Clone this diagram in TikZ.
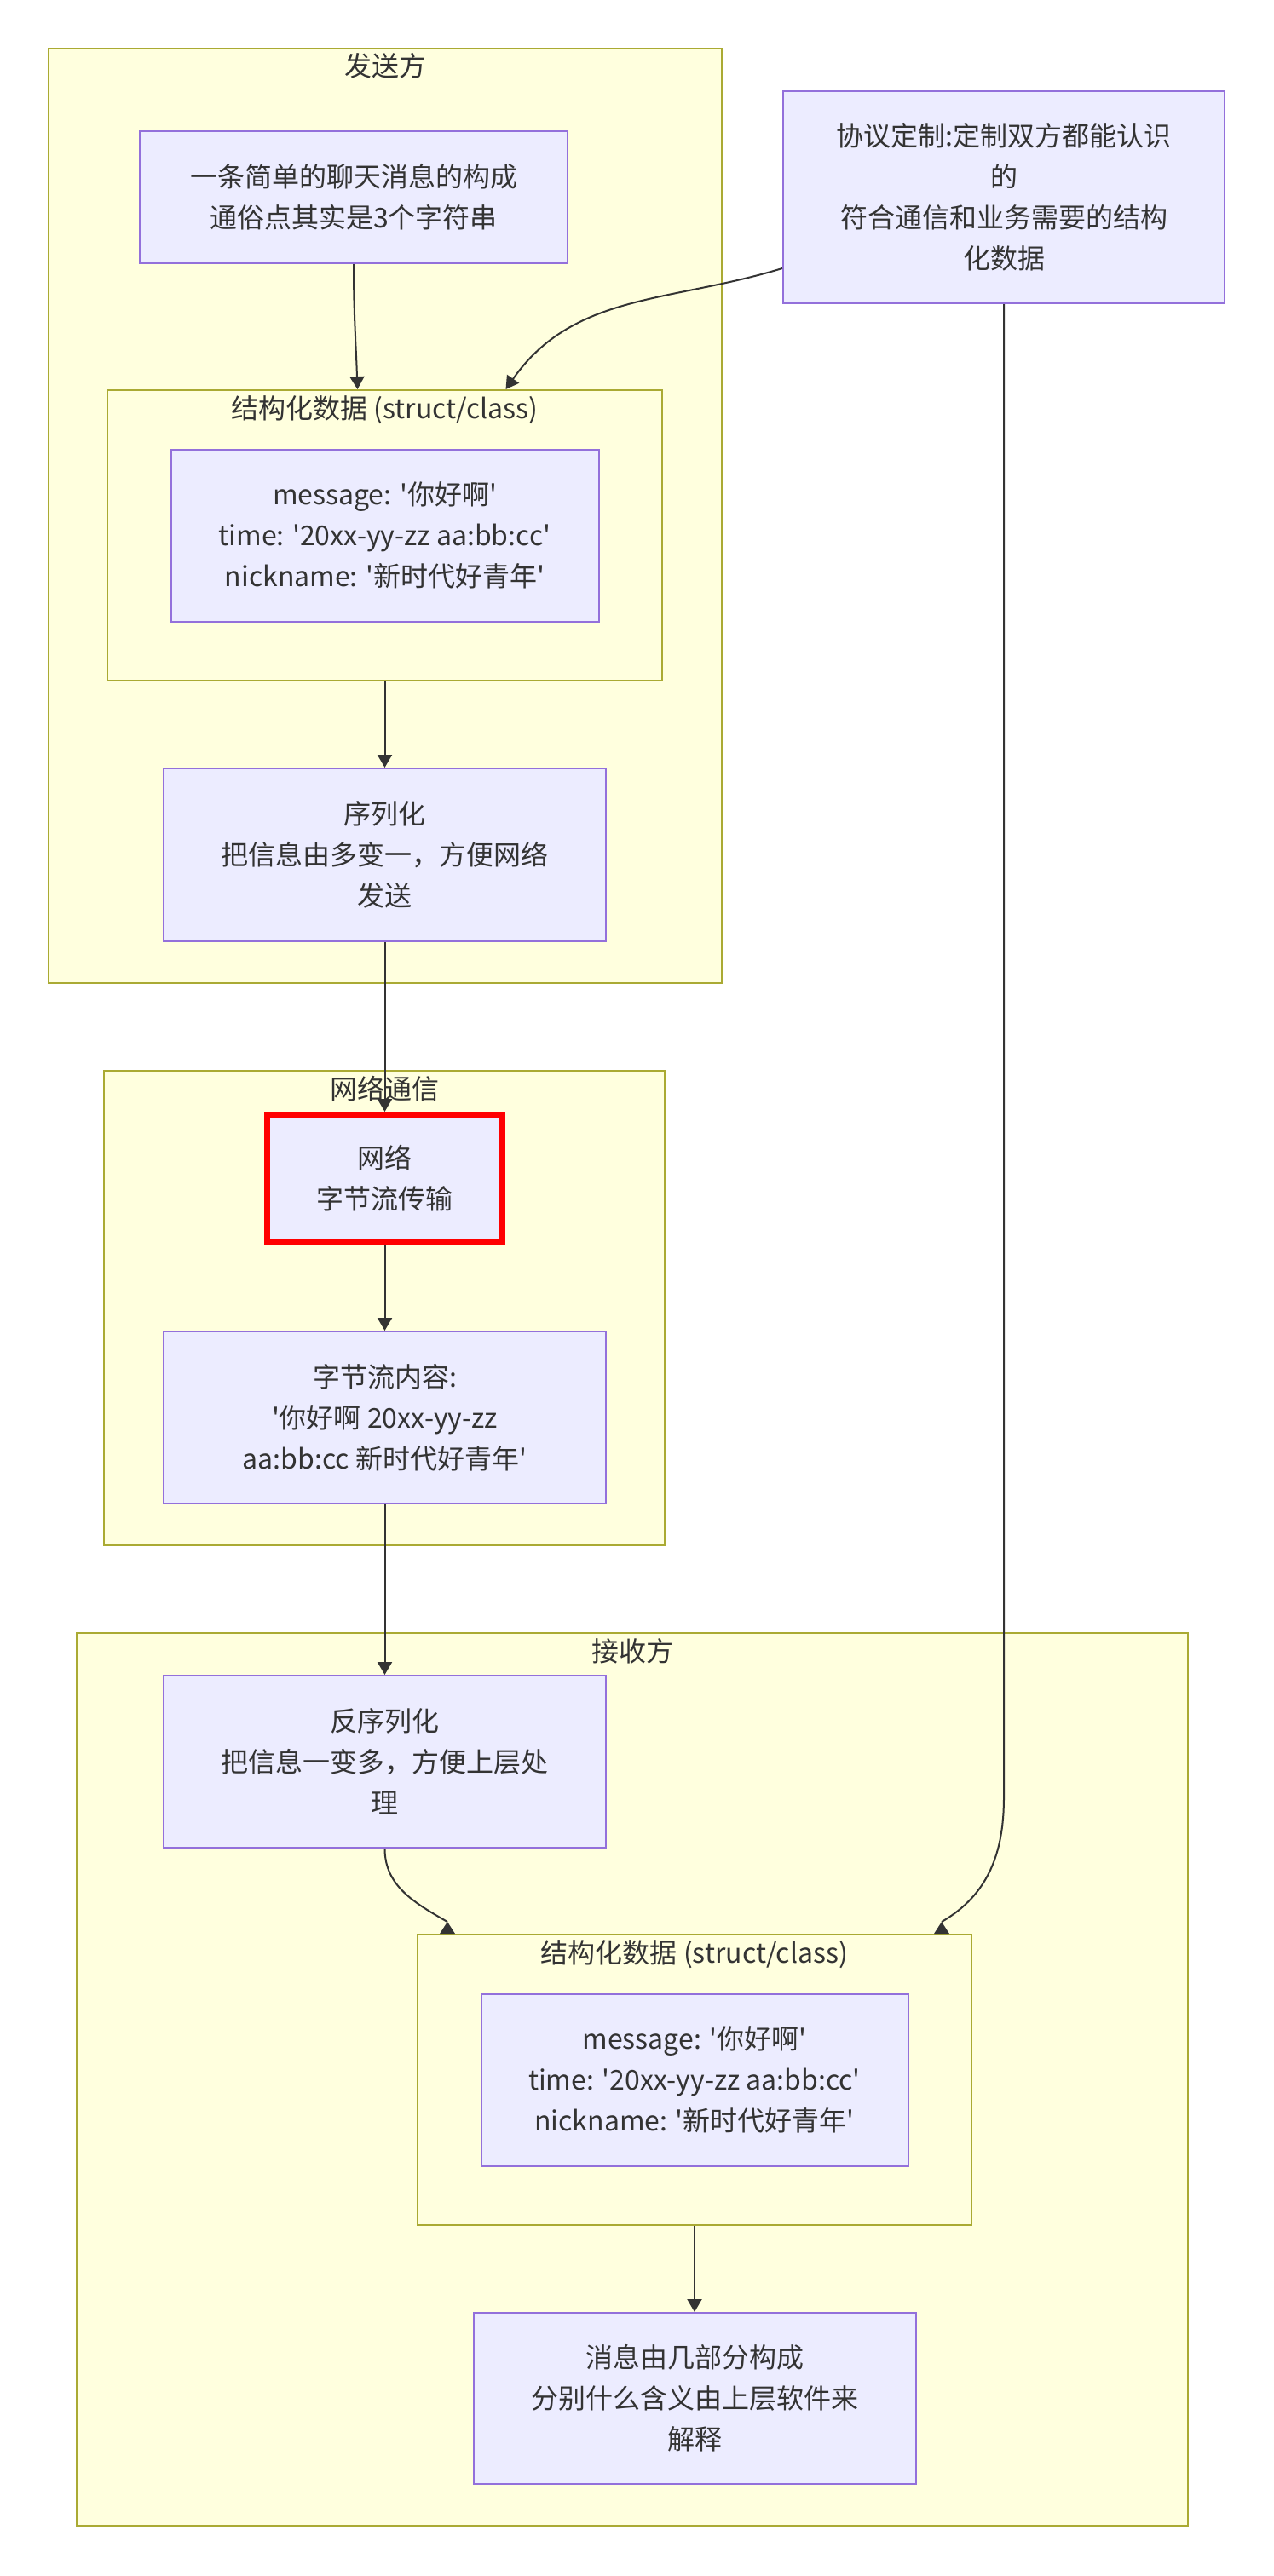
\documentclass[tikz,border=0pt]{standalone}
\usepackage{fontspec}
\usepackage{xcolor}
\usepackage{tikz}
\usetikzlibrary{arrows.meta,positioning}
\newfontfamily\cjk{Noto Sans CJK SC}
\definecolor{clfill}{HTML}{FFFFDE}
\definecolor{clline}{HTML}{AAAA33}
\definecolor{ndfill}{HTML}{ECECFF}
\definecolor{ndline}{HTML}{9370DB}
\definecolor{ink}{HTML}{333333}

\begin{document}
\begin{tikzpicture}[
  x=1pt, y=1pt,
  font=\cjk\fontsize{16}{24}\selectfont,
  cluster/.style={draw=clline, fill=clfill, line width=1pt, inner sep=0pt},
  ctitle/.style={anchor=base, inner sep=0pt, text=ink},
  box/.style={draw=ndline, fill=ndfill, line width=1pt, align=center,
              inner sep=0pt, text=ink},
  hot/.style={box, draw=red, line width=3.5pt},
  arr/.style={-{Triangle[length=7.5pt,width=8.5pt]}, line width=1pt, draw=ink},
  wire/.style={line width=1pt, draw=ink}
]
\path[use as bounding box, fill=white] (0,0) rectangle (747,-1512);
% clusters
\node[cluster, minimum width=395pt, minimum height=548.5pt] (send) at (226,-302.75) {};
\node[ctitle] (sendt) at ([yshift=-17pt]send.north) {发送方};
\node[cluster, minimum width=325.5pt, minimum height=170.5pt] (st1) at (225.75,-314.25) {};
\node[ctitle] (st1t) at ([yshift=-17pt]st1.north) {结构化数据 (struct/class)};
\node[cluster, minimum width=329pt, minimum height=278.5pt] (netc) at (225.5,-767.75) {};
\node[ctitle] (netct) at ([yshift=-17pt]netc.north) {网络通信};
\node[cluster, minimum width=652pt, minimum height=524pt] (recv) at (371,-1220.5) {};
\node[ctitle] (recvt) at ([yshift=-17pt]recv.north) {接收方};
\node[cluster, minimum width=325pt, minimum height=170.5pt] (st2) at (407.5,-1220.75) {};
\node[ctitle] (st2t) at ([yshift=-17pt]st2.north) {结构化数据 (struct/class)};
% nodes
\node[box, minimum width=251pt, minimum height=77.5pt] (msg) at (207.5,-115.75)
  {一条简单的聊天消息的构成\\通俗点其实是3个字符串};
\node[box, minimum width=259pt, minimum height=124.5pt] (proto) at (589,-115.75)
  {协议定制:定制双方都能认识\\的\\符合通信和业务需要的结构\\化数据};
\node[box, minimum width=251pt, minimum height=101pt] (data1) at (st1)
  {message: '你好啊'\\time: '20xx-yy-zz aa:bb:cc'\\nickname: '新时代好青年'};
\node[box, minimum width=259.5pt, minimum height=101.5pt, below=50.5pt of st1] (ser)
  {序列化\\把信息由多变一，方便网络\\发送};
\node[hot, minimum width=138pt, minimum height=75pt] (net) at (225.75,-691.75)
  {网络\\字节流传输};
\node[box, minimum width=259.5pt, minimum height=101pt, below=50pt of net] (bytes)
  {字节流内容:\\'你好啊 20xx-yy-zz\\aa:bb:cc 新时代好青年'};
\node[box, minimum width=259.5pt, minimum height=101pt] (deser) at (225.75,-1034)
  {反序列化\\把信息一变多，方便上层处\\理};
\node[box, minimum width=250.5pt, minimum height=101pt] (data2) at (st2)
  {message: '你好啊'\\time: '20xx-yy-zz aa:bb:cc'\\nickname: '新时代好青年'};
\node[box, minimum width=259.5pt, minimum height=100.5pt, below=50.5pt of st2] (parts)
  {消息由几部分构成\\分别什么含义由上层软件来\\解释};
% arrows
\draw[arr] (msg.south) to[out=-90, in=92] ([xshift=-16pt]st1.north);
\draw[arr] ([yshift=21pt]proto.south west) to[out=197, in=55] ([xshift=71pt]st1.north);
\draw[arr] (st1) -- (ser);
\draw[arr] (ser) -- (net);
\draw[arr] (net) -- (bytes);
\draw[arr] (bytes) -- (deser);
\draw[arr] (st2) -- (parts);
% edges that end on the receiver struct box
\coordinate (tipl) at ([xshift=-145pt]st2.north);
\coordinate (tipr) at ([xshift=145pt]st2.north);
\draw[wire] (deser.south) to[out=-90, in=150] ([yshift=7pt]tipl);
\draw[wire] (proto.south) -- ++(0,-876.5) to[out=-90, in=30] ([yshift=7pt]tipr);
\fill[ink] (tipl) ++(-4.5,0) -- ++(9,0) -- ++(-4.5,7) -- cycle;
\fill[ink] (tipr) ++(-4.5,0) -- ++(9,0) -- ++(-4.5,7) -- cycle;
\end{tikzpicture}
\end{document}
